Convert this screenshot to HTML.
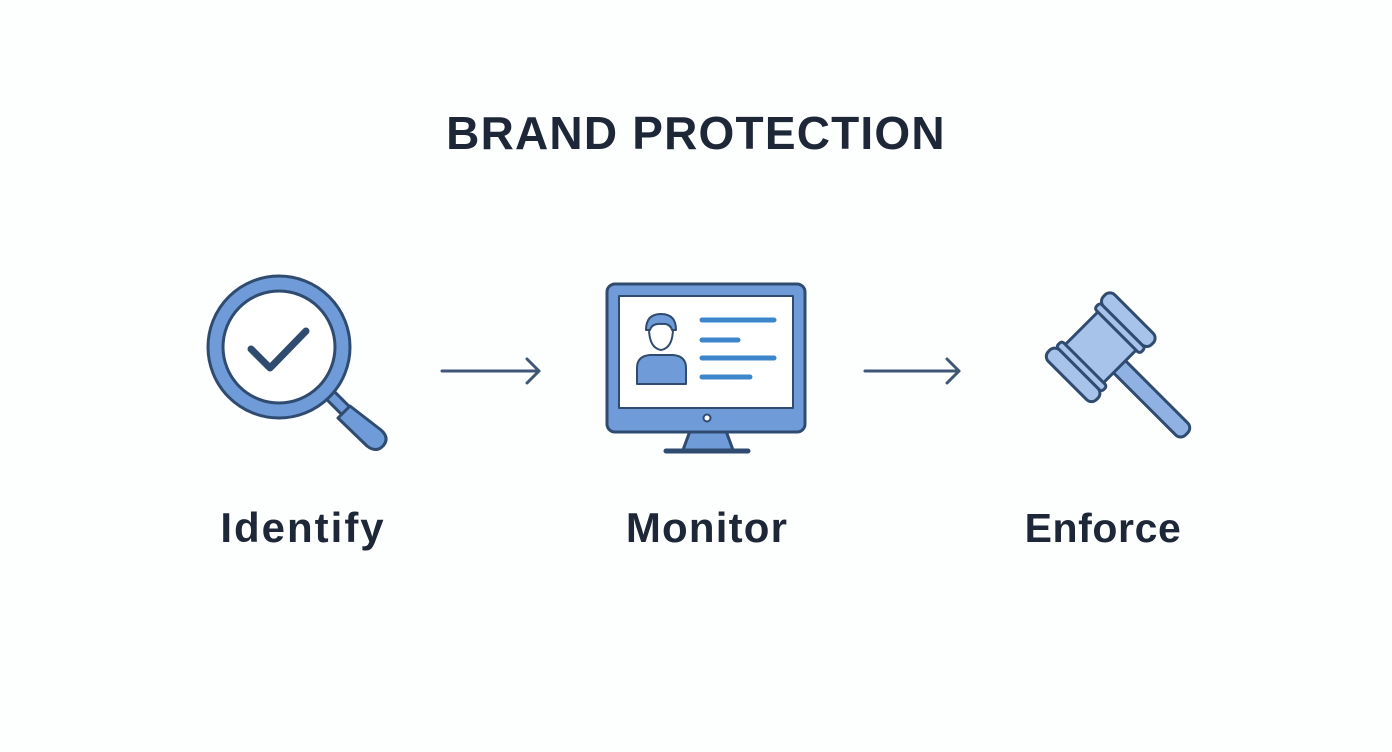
<!DOCTYPE html>
<html><head><style>
html,body{margin:0;padding:0;background:#fff;}
svg{display:block}
text{font-family:"Liberation Sans",sans-serif;font-weight:bold;fill:#1e2737;text-anchor:middle}
</style></head><body>
<svg width="1392" height="752" viewBox="0 0 1392 752">
<rect width="1392" height="752" fill="#fdfefe"/>
<text x="696" y="149" font-size="46" letter-spacing="1.2">BRAND PROTECTION</text>
<text x="303" y="542" font-size="42" letter-spacing="2">Identify</text>
<text x="707" y="542" font-size="42" letter-spacing="1.2">Monitor</text>
<text x="1103" y="542" font-size="41" letter-spacing="0.6">Enforce</text>

<!-- magnifier -->
<g stroke="#2f4c70" stroke-width="3" stroke-linejoin="round">
<line x1="330" y1="395" x2="345" y2="410" stroke="#2f4c70" stroke-width="14" stroke-linecap="round"/>
<line x1="330" y1="395" x2="345" y2="410" stroke="#6f9bd8" stroke-width="8"/>
<path d="M350 406 L338 418 L367 446 Q376 453 383 446 Q390 438 381 430 Z" fill="#6f9bd8"/>
<circle cx="279" cy="347" r="71" fill="#6f9bd8"/>
<circle cx="279" cy="347" r="56" fill="#fff"/>
</g>
<polyline points="251,349 270,368 306,331" fill="none" stroke="#2f4c70" stroke-width="7" stroke-linecap="round" stroke-linejoin="round"/>

<!-- arrows -->
<g stroke="#3f5676" stroke-width="3" fill="none" stroke-linecap="round" stroke-linejoin="round">
<line x1="442" y1="371" x2="539" y2="371"/>
<polyline points="527,359 539,371 527,383"/>
<line x1="865" y1="371" x2="959" y2="371"/>
<polyline points="947,359 959,371 947,383"/>
</g>

<!-- monitor -->
<g stroke="#2f4c70" stroke-width="3" stroke-linejoin="round">
<path d="M690 431 L726 431 L733 450 L683 450 Z" fill="#6f9bd8"/>
<line x1="666" y1="451" x2="748" y2="451" stroke-width="5" stroke-linecap="round"/>
<rect x="607" y="284" width="198" height="148" rx="8" fill="#6f9bd8"/>
<rect x="619" y="296" width="174" height="112" fill="#fff" stroke-width="2"/>
<circle cx="707" cy="418" r="3.5" fill="#fff" stroke-width="2"/>
<path d="M637 384 L637 368 Q637 356 650 355 L673 355 Q686 356 686 368 L686 384 Z" fill="#6f9bd8" stroke-width="2"/>
<path d="M649 328 Q649 348 661 350 Q673 348 673 328" fill="#fff" stroke-width="2"/>
<path d="M646 330 Q646 314 661 314 Q676 314 676 330 L672 330 Q670 323 662 324 Q652 323 650 330 Z" fill="#6f9bd8" stroke-width="2"/>
</g>
<g stroke="#3d86cc" stroke-width="5" stroke-linecap="round">
<line x1="702" y1="320" x2="774" y2="320"/>
<line x1="702" y1="340" x2="738" y2="340"/>
<line x1="702" y1="358" x2="774" y2="358"/>
<line x1="702" y1="377" x2="750" y2="377"/>
</g>

<!-- gavel -->
<g transform="rotate(45 1100 348)" stroke="#2f4c70" stroke-width="3" stroke-linejoin="round" fill="#a8c3ea">
<rect x="1120" y="339" width="102" height="17" rx="7" fill="#8fb2e3"/>
<rect x="1073" y="322" width="54" height="50" fill="#a8c3ea"/>
<rect x="1068" y="316" width="64" height="8" rx="3"/>
<rect x="1068" y="370" width="64" height="8" rx="3"/>
<rect x="1066" y="300" width="68" height="16" rx="7"/>
<rect x="1066" y="378" width="68" height="16" rx="7"/>
</g>
</svg>
</body></html>
